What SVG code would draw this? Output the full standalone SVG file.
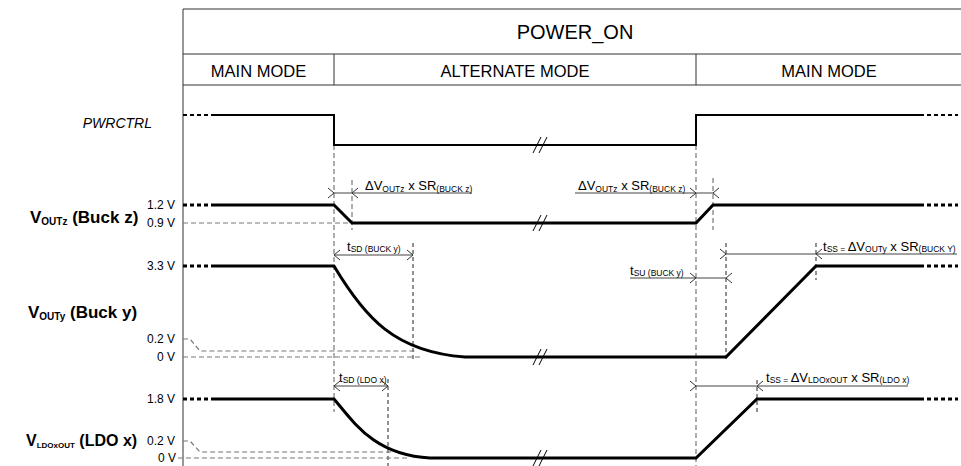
<svg xmlns="http://www.w3.org/2000/svg" xmlns:xlink="http://www.w3.org/1999/xlink" width="961" height="466" viewBox="0 0 961 466">
<style>
text{font-family:"Liberation Sans",Arial,sans-serif;fill:#000}
.tbl{stroke:#333;stroke-width:1;fill:none}
.hdr{font-size:20px;text-anchor:middle}
.mode{font-size:16.5px;text-anchor:middle}
.sig{stroke:#000;stroke-width:3;fill:none}
.dot{stroke:#000;stroke-width:3;fill:none;stroke-dasharray:4 3}
.gd{stroke:#777;stroke-width:1.2;fill:none;stroke-dasharray:5 3}
.kd{stroke:#222;stroke-width:1;fill:none;stroke-dasharray:4 3}
.dim{stroke:#444;stroke-width:1;fill:none}
.brk{stroke:#000;stroke-width:1;fill:none}
.lvl{font-size:12px;text-anchor:end}
.nm{font-size:17px;font-weight:bold}
.nms{font-size:10px;font-weight:bold}
.ann{font-size:13px}
.sub{font-size:8.5px}
</style>
<defs>
<path id="chR" d="M-6,-5 L0,0 L-6,5" fill="none" stroke="#333" stroke-width="1"/>
<path id="chL" d="M6,-5 L0,0 L6,5" fill="none" stroke="#333" stroke-width="1"/>
</defs>

<g id="table">
<path class="tbl" d="M183,9 H961 M183,54 H961 M183,85 H961 M183,9 V466 M334,54 V85 M696,54 V85"/>
<text class="hdr" x="575" y="39">POWER_ON</text>
<text class="mode" x="258.5" y="77">MAIN MODE</text>
<text class="mode" x="515" y="77">ALTERNATE MODE</text>
<text class="mode" x="829" y="77">MAIN MODE</text>
</g>

<g id="connectors">
<path class="gd" d="M334,145 V412 M696,145 V466 M352,180 V230 M713,178 V230"/>
<path class="kd" d="M413,243 V361 M726,243 V361 M816,243 V280 M388,379 V466 M757,380 V412"/>
<path class="gd" d="M183,223 H352"/>
<path class="gd" d="M183,339 H190 L200,351 H415 M183,357 H420"/>
<path class="gd" d="M183,441 H190 L200,452 H392 M178,458 H410"/>
<path class="dim" d="M334,193 H472 M575,193 H713 M334,255 H413 M630,278 H726 M726,254 H957 M334,386 H388 M696,386 H908"/>
<use xlink:href="#chR" x="334" y="193"/><use xlink:href="#chL" x="352" y="193"/>
<use xlink:href="#chR" x="696" y="193"/><use xlink:href="#chL" x="713" y="193"/>
<use xlink:href="#chL" x="334" y="255"/><use xlink:href="#chR" x="413" y="255"/>
<use xlink:href="#chR" x="696" y="278"/><use xlink:href="#chL" x="726" y="278"/>
<use xlink:href="#chR" x="726" y="254"/><use xlink:href="#chL" x="816" y="254"/>
<use xlink:href="#chL" x="334" y="386"/><use xlink:href="#chR" x="388" y="386"/>
<use xlink:href="#chR" x="696" y="386"/><use xlink:href="#chL" x="757" y="386"/>
<text class="ann" x="365" y="190">ΔV<tspan class="sub" dy="2">OUTz</tspan><tspan dy="-2"> x SR</tspan><tspan class="sub" dy="2">(BUCK z)</tspan></text>
<text class="ann" x="578" y="190">ΔV<tspan class="sub" dy="2">OUTz</tspan><tspan dy="-2"> x SR</tspan><tspan class="sub" dy="2">(BUCK z)</tspan></text>
<text class="ann" x="347" y="251">t<tspan class="sub" dy="1">SD (BUCK y)</tspan></text>
<text class="ann" x="630" y="275">t<tspan class="sub" dy="1">SU (BUCK y)</tspan></text>
<text class="ann" x="823" y="251">t<tspan class="sub" dy="1">SS = </tspan><tspan dy="-1">ΔV</tspan><tspan class="sub" dy="1">OUTy</tspan><tspan dy="-1"> x SR</tspan><tspan class="sub" dy="1">(BUCK Y)</tspan></text>
<text class="ann" x="339" y="382">t<tspan class="sub" dy="1">SD (LDO x)</tspan></text>
<text class="ann" x="766" y="382">t<tspan class="sub" dy="1">SS = </tspan><tspan dy="-1">ΔV</tspan><tspan class="sub" dy="1">LDOxOUT</tspan><tspan dy="-1"> x SR</tspan><tspan class="sub" dy="1">(LDO x)</tspan></text>
</g>

<g id="pwrctrl">
<text x="152" y="128" font-size="14" font-style="italic" text-anchor="end">PWRCTRL</text>
<path class="dot" d="M183,115 H213 M920,115 H958" style="stroke-width:2"/>
<path class="sig" style="stroke-width:2" d="M213,115 H334 V145 H696 V115 H920"/>
<path class="brk" d="M533,153 L541,137 M539,153 L547,137"/>
</g>

<g id="voutz">
<text class="nm" x="30" y="223">V<tspan class="nms" dy="2">OUTz</tspan><tspan dy="-2"> (Buck z)</tspan></text>
<text class="lvl" x="175" y="209">1.2 V</text>
<text class="lvl" x="175" y="227">0.9 V</text>
<path class="dot" d="M183,205 H213 M920,205 H958"/>
<path class="sig" d="M213,205 H334 L352,223 H696 L713,205 H920"/>
<path class="brk" d="M533,231 L541,215 M539,231 L547,215"/>
</g>

<g id="vouty">
<text class="nm" x="28" y="318">V<tspan class="nms" dy="2">OUTy</tspan><tspan dy="-2"> (Buck y)</tspan></text>
<text class="lvl" x="175" y="270">3.3 V</text>
<text class="lvl" x="175" y="343">0.2 V</text>
<text class="lvl" x="175" y="361">0 V</text>
<path class="dot" d="M183,266 H213 M920,266 H958"/>
<path class="sig" d="M213,266 H334 C365,318 395,352 465,357 H726 L816,266 H920"/>
<path class="brk" d="M533,365 L541,349 M539,365 L547,349"/>
</g>

<g id="vldo">
<text class="nm" x="26" y="446" style="font-size:16px">V<tspan class="nms" dy="2" style="font-size:8px">LDOxOUT</tspan><tspan dy="-2"> (LDO x)</tspan></text>
<text class="lvl" x="175" y="445">0.2 V</text>
<text class="lvl" x="175" y="403">1.8 V</text>
<text class="lvl" x="176" y="462">0 V</text>
<path class="dot" d="M183,399 H213 M920,399 H958"/>
<path class="sig" d="M213,399 H334 C355,424 375,455 430,458 H696 L757,399 H920"/>
<path class="brk" d="M533,466 L541,450 M539,466 L547,450"/>
</g>
</svg>
